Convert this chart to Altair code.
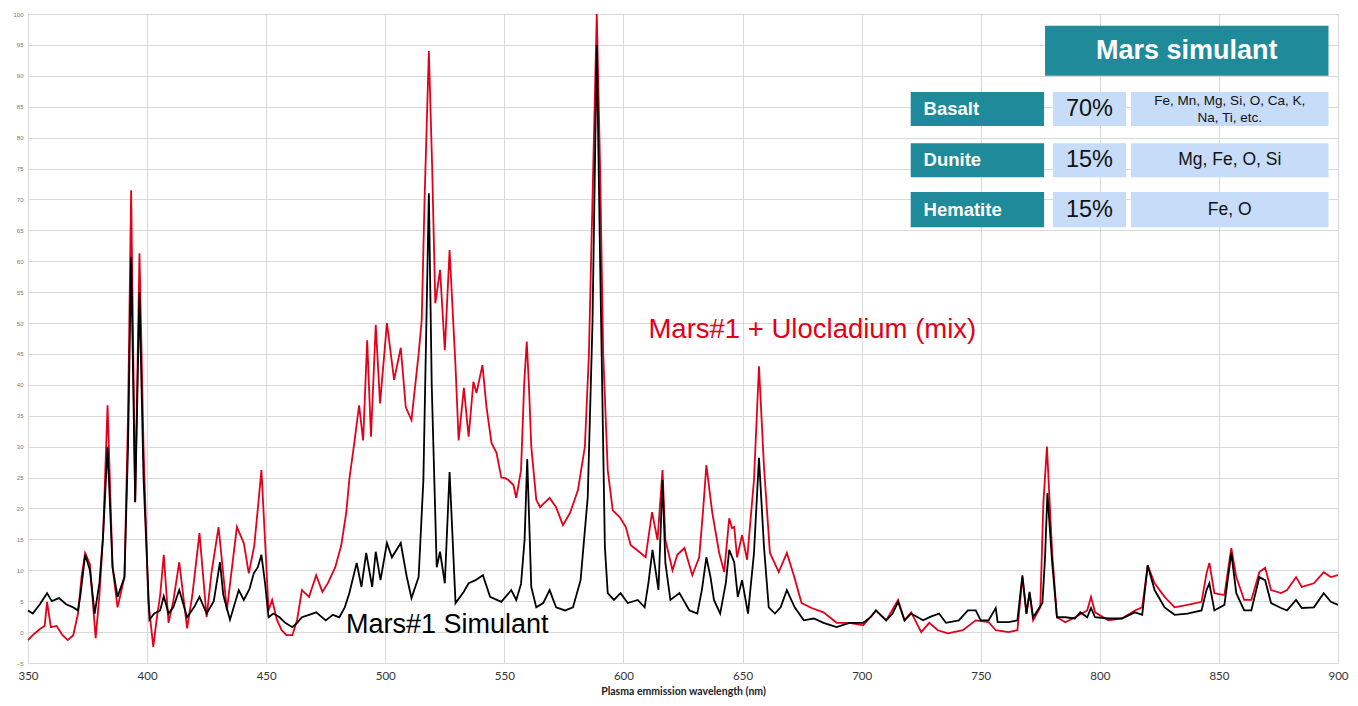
import altair as alt
import pandas as pd

# ---------------- data ----------------
black_wl = [350, 352, 355, 358, 360, 363, 366, 369, 371, 372, 374, 376, 378, 380, 381.5, 383.4, 385.5,
            387.6, 390.5, 392, 393.3, 395, 396.8, 398.5, 401, 403, 405.5, 407, 409, 411, 413.5, 416.8,
            419.7, 422, 425, 428, 430.6, 432, 434.8, 438.5, 440.6, 443, 444.8, 446.5, 448, 449.5, 451,
            453, 455.6, 458, 461, 463, 465, 468, 471, 475, 478, 480.7, 483, 484.9, 488, 490, 492, 494.5,
            496, 498, 500.7, 502.8, 506.5, 509, 511, 514, 516, 518.3, 519.5, 521.6, 523, 525, 527, 529.5,
            532.9, 535, 537.9, 541, 544, 548.7, 552.9, 555, 557, 558.5, 559.6, 561.3, 563.4, 566.3, 569,
            571.7, 575.5, 578.8, 582, 585, 587, 588.8, 590.2, 592.2, 593.4, 596, 598.8, 601.8, 606, 608.9,
            610.5, 612.2, 614.7, 616.4, 617.6, 619.7, 623.5, 627.7, 631, 633, 634.8, 636.5, 638, 640.6,
            643, 644.4, 646.5, 648, 649.8, 652.3, 654.8, 656.9, 659, 661, 663.6, 666, 668.6, 671.9, 675.7,
            679.9, 684, 689.5, 694.9, 700.7, 704, 706, 710.3, 713, 715.3, 718, 720.8, 725.8, 729, 732.5,
            735.4, 740.8, 744.6, 747.9, 750, 753.3, 756.3, 757.1, 761.7, 765.4, 767.5, 769.2, 770.5, 772,
            775.9, 777, 778, 780, 782, 785.5, 789.6, 791.8, 794.7, 796.3, 798, 803.6, 809.3, 814.7, 817.8,
            820.1, 823, 827.2, 831.4, 836.8, 842.7, 844.8, 846, 848.1, 852.3, 855.2, 857.3, 860.6, 863.6,
            867, 869.4, 871.9, 876.1, 878.6, 882.4, 884.8, 889.9, 894, 897, 900]
black_val = [3.5, 3.0, 4.5, 6.3, 5, 5.5, 4.5, 4.0, 3.5, 6, 12.5, 10, 3, 8, 15.4, 30, 10.5,
             5.7, 8.9, 30, 60.7, 21, 55, 25, 2, 3, 3.5, 5.8, 3, 4, 6.8, 2.4,
             4, 5.7, 3, 5, 11.3, 6, 2, 6.8, 5.2, 7, 9.5, 10.5, 12.5, 8, 2.4,
             3, 2.4, 1.5, 0.8, 1.5, 2.4, 2.8, 3.2, 1.9, 2.8, 2.4, 4, 6.3, 11.2, 7.3, 12.8, 7.3,
             13, 8.4, 14.4, 12.1, 14.4, 9, 5.5, 8.9, 24.6, 71, 40, 10.5, 13, 7.9, 25.9, 4.7,
             6.5, 7.9, 8.4, 9.2, 5.7, 4.9, 6.8, 5.2, 7.8, 15, 28, 7.3, 4, 4.7, 6.8,
             4, 3.5, 4, 8.4, 21.8, 50, 95, 60, 13.8, 6.3, 5.2, 6.3, 4.7, 5.2, 4,
             8, 13.3, 6.8, 24.6, 11.2, 5.2, 6.3, 3.5, 3, 7, 12.1, 9, 5.2, 3,
             8, 13.3, 11.3, 5.7, 8.4, 3, 12.8, 28.2, 13.8, 4, 3, 4, 6.8, 4, 1.9,
             2.2, 1.5, 0.8, 1.5, 1.5, 2.5, 3.5, 1.9, 3, 4.9, 1.9, 3, 1.9, 2.5, 3,
             1.5, 1.9, 3.5, 3.5, 1.9, 1.9, 3.9, 1.6, 1.6, 1.9, 9.2, 3, 6.5, 2.4,
             4.7, 12, 22.5, 11.2, 2.4, 2.4, 2.2, 3.2, 2.4, 3.9, 2.4, 2.2, 2.2, 3.2, 2.8,
             10.8, 6.8, 4, 2.8, 3, 3.5, 6.8, 7.9, 3.5, 4.4, 12.8, 6.3, 3.5, 3.5,
             8.9, 8.4, 4.7, 3.9, 3.5, 5.2, 3.9, 4, 6.3, 4.9, 4.4]

red_wl = [350, 352, 355, 357, 358, 359.6, 362, 364.5, 366.7, 369, 371, 372.5, 374, 376, 378.4, 380,
          381.5, 383.4, 385.5, 387.6, 390.5, 392, 393.3, 395, 396.8, 398.5, 400.5, 402.6, 404, 405.5,
          407, 409, 411, 413.5, 416.8, 419, 422, 425, 427, 430, 433.5, 435.5, 437.7, 440.6, 442.7, 445,
          446.5, 448, 449.5, 451, 452.5, 454.5, 456.5, 458.5, 461, 463, 465, 468, 471, 473.6, 476, 479,
          481.5, 483.6, 485, 487, 489, 490.7, 492.4, 494, 496, 497.8, 500.7, 503.7, 506.5, 508.6, 511,
          514, 515.3, 516.5, 518.3, 519.7, 521, 523, 525, 527, 529.5, 530.8, 533, 535, 537, 538.3, 540.8,
          542.5, 544.6, 546.7, 548.7, 550.4, 551.7, 553.8, 555, 557, 558.3, 559.4, 560.3, 561.3, 563.4,
          565, 567, 569, 571.7, 574.6, 577.6, 580.9, 583.8, 585.5, 587, 588.8, 590.2, 591.5, 593.4,
          595.5, 598.4, 601, 603, 607.2, 609.3, 612, 614.3, 616.4, 617.6, 620.6, 622.6, 625.6, 628.9,
          631.8, 633.5, 634.8, 637.3, 640.2, 642.3, 644.4, 645.6, 646.5, 647.7, 649.8, 651.9, 654.8,
          656.9, 659, 661.5, 665.2, 668.6, 671.5, 674.8, 679, 684, 689.5, 694.9, 700.7, 706, 710.3,
          715.3, 718, 720.8, 725, 728.4, 732, 736.2, 742.5, 747.9, 753.3, 756.3, 761.7, 765.4, 767.5,
          769.2, 770.5, 772, 775, 776.3, 777.8, 780, 782, 785.5, 789.6, 794.7, 796.3, 798, 803.6, 809.3,
          814.7, 817.8, 820.1, 823, 827.2, 831.4, 836.8, 842.7, 844.8, 846, 848.1, 852.3, 855.2, 857.3,
          860.6, 863.6, 867, 869.4, 871.9, 876.1, 878.6, 882.4, 884.8, 889.9, 894, 897, 900]
red_val = [-1.3, -0.5, 0.5, 1, 4.9, 0.8, 1, -0.5, -1.3, -0.5, 3, 9, 12.8, 11, -1, 6,
           15.4, 36.7, 10.5, 4, 8.9, 35, 71.5, 21, 61.3, 30, 5, -2.4, 2, 6,
           12.5, 1.5, 5, 11.3, 0.6, 6, 16, 2.4, 9.5, 17, 3.5, 10, 17, 14.4, 9.5, 14,
           20, 26.2, 15, 3.5, 5.2, 2, 0.3, -0.5, -0.5, 2, 6.8, 5.7, 9.2, 6.5, 8, 10.5,
           14, 19.3, 25, 30.6, 36.7, 31, 47.2, 31.6, 49.7, 37, 50, 40.8, 46, 36.4, 34.3,
           45, 50.5, 70, 94, 75, 53.2, 58.6, 45.6, 61.8, 42.9, 31, 39.5, 31.6, 40.5, 38.7, 43.2,
           36.4, 30.6, 29, 25, 24.9, 24.6, 23.8, 21.7, 26.2, 40, 47, 40, 30, 21.4,
           20.2, 21, 21.7, 20.2, 17.3, 19.3, 23, 30, 45, 70, 100, 75, 45, 26.2,
           19.7, 18.6, 17, 14.1, 12.8, 12.1, 19.4, 14.9, 26.2, 14.9, 10, 12.5, 13.6, 9.2,
           12.1, 20, 27, 19.3, 12.8, 9.7, 18.4, 16.8, 17, 12.1, 15.7, 11.7, 24.6,
           43, 26.7, 12.8, 9.7, 12.8, 9.2, 4.7, 3.9, 3.2, 1.5, 1.5, 1.1, 3.5, 1.9,
           5.2, 1.9, 3.2, 0, 1.5, 0.3, -0.2, 0.3, 1.9, 1.6, 0.3, 0, 0.3, 8.9,
           3, 6.3, 1.9, 4, 20.9, 30, 12.8, 2.4, 1.6, 2.4, 3.5, 5.7, 3.2, 1.9, 2.2,
           3.5, 4, 10.8, 7.9, 5.7, 4, 4.4, 4.9, 9.5, 11.2, 6.3, 6, 13.6, 8.9,
           5.2, 5.2, 9.7, 10.4, 6.8, 6.3, 6.8, 8.9, 7.3, 7.9, 9.7, 8.9, 9.2]

x_ticks = [350, 400, 450, 500, 550, 600, 650, 700, 750, 800, 850, 900]
y_ticks = [-5, 0, 5, 10, 15, 20, 25, 30, 35, 40, 45, 50, 55, 60, 65, 70, 75, 80, 85, 90, 95, 100]

series_labels = ["Mars#1 + Ulocladium (mix)", "Mars#1 Simulant"]
table_title = "Mars simulant"
minerals = ["Basalt", "Dunite", "Hematite"]
shares = ["70%", "15%", "15%"]
elements = [["Fe, Mn, Mg, Si, O, Ca, K,", "Na, Ti, etc."], ["Mg, Fe, O, Si"], ["Fe, O"]]

# ---------------- style / layout ----------------
RED = "#e3001b"
BLACK = "#000000"
TEAL = "#1f8a99"
LIGHT = "#c6dcf8"
GRID = "#d9d9d9"
FONT = "Liberation Sans"
AXFONT = "Lato"

W, H = 1310, 649
XDOM = [350, 900]
YDOM = [-5, 100]

# table layout (in data units of the chart)
head_x = (777, 896); head_y = (98.1, 90.0)
col1 = (720.6, 776.6); col2 = (780.3, 811.0); col3 = (813.1, 896)
row_y = [(87.4, 81.9), (79.1, 73.6), (71.2, 65.5)]

xs = alt.Scale(domain=XDOM, nice=False, zero=False)
ys = alt.Scale(domain=YDOM, nice=False, zero=False)

black_df = pd.DataFrame({"wl": black_wl, "val": black_val})
red_df = pd.DataFrame({"wl": red_wl, "val": red_val})

x_axis = alt.Axis(
    values=x_ticks, title="Plasma emmission wavelength (nm)", grid=True, ticks=False,
    labelFont=AXFONT, labelFontSize=11.5, labelColor="#333333", labelPadding=7,
    titleFont=AXFONT, titleFontSize=10.5, titleFontWeight="bold", titleColor="#222222",
    titlePadding=5, domainColor=GRID, gridColor=GRID, labelFlush=False, labelOverlap=False)
y_axis = alt.Axis(
    values=y_ticks, title=None, grid=True, ticks=False, labelFontSize=6, labelColor="#777777",
    labelPadding=5, domainColor=GRID, gridColor=GRID, labelFont=FONT, labelOverlap=False)


def X(field="wl:Q"):
    return alt.X(field, scale=xs, axis=x_axis)


def Y(field="val:Q"):
    return alt.Y(field, scale=ys, axis=y_axis)


red_line = alt.Chart(red_df).mark_line(color=RED, strokeWidth=1.8).encode(x=X(), y=Y(), order="wl:Q")
black_line = alt.Chart(black_df).mark_line(color=BLACK, strokeWidth=1.8).encode(x=X(), y=Y(), order="wl:Q")

# series labels
lab_df = pd.DataFrame({"wl": [610.5, 483.5], "val": [48.9, 1.1], "t": series_labels, "c": [RED, BLACK],
                       "s": [27.5, 27]})
labels = alt.Chart(lab_df).mark_text(align="left", baseline="middle", font=FONT).encode(
    x=X(), y=Y(), text="t:N",
    color=alt.Color("c:N", scale=None), size=alt.Size("s:Q", scale=None))

# table rectangles
rects = [dict(wl=head_x[0], wl2=head_x[1], val=head_y[0], val2=head_y[1], c=TEAL)]
for (yt, yb) in row_y:
    rects.append(dict(wl=col1[0], wl2=col1[1], val=yt, val2=yb, c=TEAL))
    rects.append(dict(wl=col2[0], wl2=col2[1], val=yt, val2=yb, c=LIGHT))
    rects.append(dict(wl=col3[0], wl2=col3[1], val=yt, val2=yb, c=LIGHT))
rect_layer = alt.Chart(pd.DataFrame(rects)).mark_rect().encode(
    x=X(), x2="wl2:Q", y=Y(), y2="val2:Q",
    color=alt.Color("c:N", scale=None))

texts = [dict(wl=(head_x[0] + head_x[1]) / 2, val=(head_y[0] + head_y[1]) / 2, t=table_title,
              c="#ffffff", s=27, w="bold", a="center")]
for i, (yt, yb) in enumerate(row_y):
    ym = (yt + yb) / 2
    texts.append(dict(wl=col1[0] + 5.4, val=ym, t=minerals[i], c="#ffffff", s=18.5, w="bold", a="left"))
    texts.append(dict(wl=(col2[0] + col2[1]) / 2, val=ym, t=shares[i], c="#111111", s=23.5, w="normal", a="center"))
    el = elements[i]
    if len(el) == 2:
        texts.append(dict(wl=(col3[0] + col3[1]) / 2, val=ym + 1.3, t=el[0], c="#111111", s=13.5, w="normal", a="center"))
        texts.append(dict(wl=(col3[0] + col3[1]) / 2, val=ym - 1.4, t=el[1], c="#111111", s=13.5, w="normal", a="center"))
    else:
        texts.append(dict(wl=(col3[0] + col3[1]) / 2, val=ym, t=el[0], c="#111111", s=17.5, w="normal", a="center"))
tdf = pd.DataFrame(texts)


def text_layer(sub, align, weight):
    return alt.Chart(sub).mark_text(align=align, baseline="middle", font=FONT, fontWeight=weight).encode(
        x=X(), y=Y(), text="t:N",
        color=alt.Color("c:N", scale=None), size=alt.Size("s:Q", scale=None))


tlayers = []
for a in ["left", "center"]:
    for w in ["bold", "normal"]:
        sub = tdf[(tdf.a == a) & (tdf.w == w)]
        if len(sub):
            tlayers.append(text_layer(sub, a, w))

chart = alt.layer(red_line, black_line, labels, rect_layer, *tlayers).properties(
    width=W, height=H,
    autosize=alt.AutoSizeParams(type="none"),
    padding={"left": 20, "top": 6, "right": 12, "bottom": 35},
).configure_view(stroke=None).configure_axis(labelOverlap=False).configure(background="#ffffff")

chart.save("out.html", embed_options={"renderer": "svg", "actions": False})
